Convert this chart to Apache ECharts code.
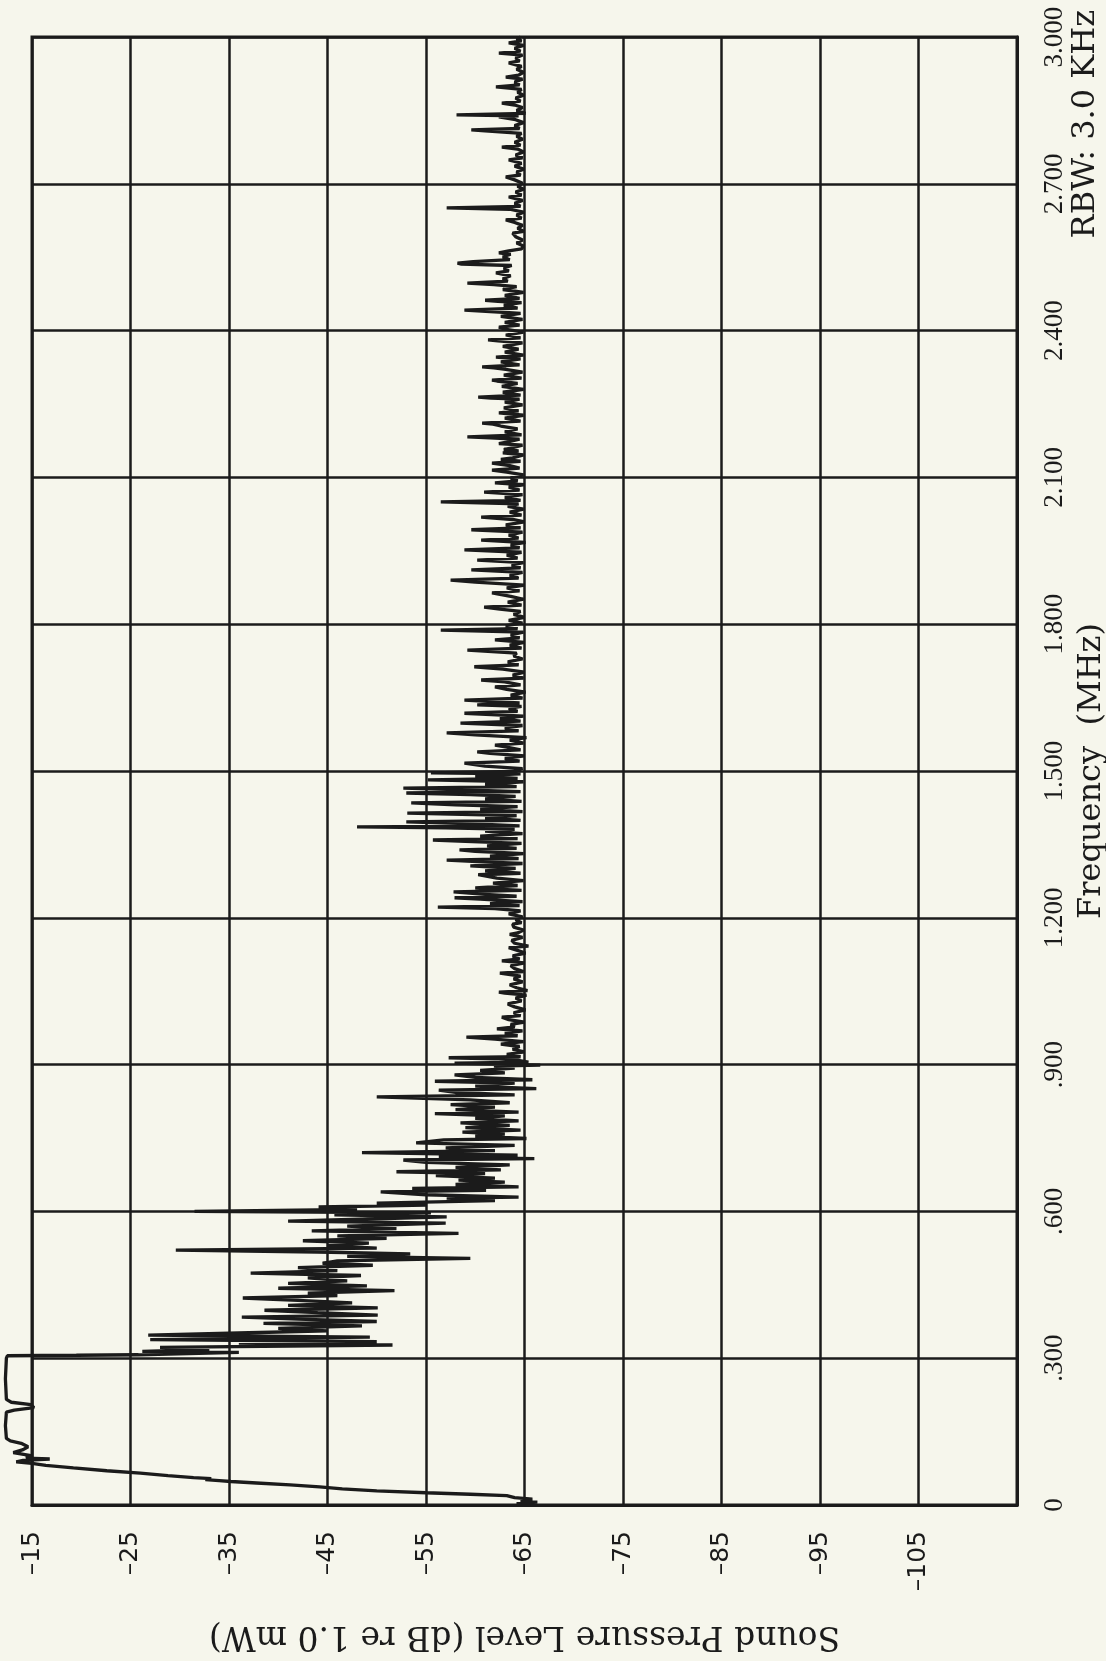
<!DOCTYPE html>
<html><head><meta charset="utf-8">
<script src="https://cdn.jsdelivr.net/npm/echarts@6/dist/echarts.min.js"></script>
<style>html,body{margin:0;padding:0;background:#f6f6ec;}#chart{width:1106px;height:1661px;}</style>
</head><body><div id="chart"></div>
<script>
// Frequency ticks (MHz) and level ticks (dB re 1.0 mW)
const freqTicks = [0, 0.3, 0.6, 0.9, 1.2, 1.5, 1.8, 2.1, 2.4, 2.7, 3.0];
const levelTicks = [-15, -25, -35, -45, -55, -65, -75, -85, -95, -105];
const levelTitle = 'Sound Pressure Level (dB re 1.0 mW)';
const freqTitle = 'Frequency  (MHz)';
const rbwNote = 'RBW: 3.0 KHz';

// Trace, [frequency MHz, level dB]
const rampPts = [[0.000,-65.6],[0.003,-64.2],[0.006,-66.3],[0.009,-64.6],[0.012,-65.8],[0.015,-64.0],[0.019,-63.2],[0.022,-59.5],[0.025,-55.0],[0.029,-50.0],[0.033,-46.5],[0.037,-44.2],[0.041,-41.2],[0.045,-37.8],[0.048,-35.2],[0.050,-34.0],[0.052,-32.6],[0.054,-33.2],[0.056,-31.4],[0.060,-28.8],[0.065,-26.0],[0.070,-22.6],[0.076,-19.2],[0.081,-16.4],[0.085,-15.0],[0.088,-13.4],[0.091,-14.1],[0.094,-16.8],[0.096,-14.4],[0.101,-14.9],[0.107,-13.1],[0.113,-14.1],[0.119,-14.6],[0.126,-13.9],[0.131,-12.8],[0.136,-12.4],[0.162,-12.3],[0.190,-12.4],[0.194,-13.2],[0.199,-15.2],[0.205,-14.9],[0.210,-12.9],[0.216,-12.4],[0.258,-12.3],[0.300,-12.4],[0.305,-12.5],[0.306,-19.5],[0.307,-25.8]];
const band03Pts = [[0.309,-26.0],[0.312,-36.0],[0.314,-26.2],[0.318,-33.0],[0.322,-28.0],[0.327,-51.6],[0.331,-36.0],[0.334,-50.0],[0.338,-27.0],[0.343,-49.3],[0.347,-26.8],[0.352,-37.0],[0.356,-45.0],[0.361,-40.0],[0.366,-48.5],[0.371,-38.5],[0.375,-50.0],[0.380,-42.0],[0.384,-36.3],[0.388,-50.1],[0.393,-44.0],[0.398,-38.6],[0.403,-50.1],[0.408,-41.0],[0.413,-47.5],[0.418,-42.0],[0.423,-36.4],[0.428,-46.0],[0.433,-43.0],[0.438,-51.8],[0.443,-40.0],[0.448,-49.0],[0.453,-41.0],[0.458,-47.0],[0.464,-43.0],[0.469,-48.4],[0.474,-37.2],[0.479,-46.0],[0.485,-42.0],[0.490,-49.6],[0.494,-44.5],[0.499,-46.0],[0.504,-59.5],[0.508,-47.0],[0.513,-53.4],[0.517,-44.0],[0.521,-29.6],[0.525,-50.0],[0.530,-45.0],[0.535,-49.2],[0.540,-42.5],[0.545,-51.0],[0.550,-46.0],[0.555,-58.3],[0.560,-43.4],[0.565,-52.0],[0.570,-47.0],[0.576,-57.0],[0.580,-41.0],[0.585,-50.0],[0.589,-57.1],[0.593,-45.7],[0.597,-55.5],[0.600,-31.5],[0.604,-48.0],[0.609,-44.1],[0.613,-55.0]];
const band06Pts = [[0.617,-50.0],[0.622,-62.0],[0.627,-57.1],[0.629,-64.4],[0.634,-55.0],[0.640,-50.4],[0.643,-61.1],[0.647,-53.6],[0.650,-64.4],[0.655,-58.0],[0.660,-63.0],[0.664,-58.3],[0.668,-62.0],[0.673,-56.0],[0.677,-61.0],[0.681,-52.0],[0.685,-62.6],[0.690,-58.0],[0.695,-63.5],[0.700,-55.0],[0.705,-52.7],[0.708,-66.0],[0.711,-56.3],[0.715,-64.3],[0.720,-48.5],[0.724,-62.0],[0.730,-57.0],[0.735,-64.0],[0.740,-54.0],[0.746,-56.8],[0.749,-65.2],[0.754,-60.0],[0.758,-63.0],[0.762,-58.7],[0.766,-64.6],[0.771,-59.0],[0.776,-63.5],[0.781,-58.5],[0.785,-64.4],[0.790,-60.0],[0.795,-63.0],[0.800,-55.9],[0.803,-64.4],[0.808,-58.0],[0.813,-62.0],[0.818,-57.5],[0.822,-63.5],[0.828,-59.5],[0.834,-50.0],[0.838,-64.0],[0.843,-58.0],[0.848,-56.3],[0.851,-66.2],[0.856,-60.0],[0.862,-64.0],[0.866,-55.9],[0.869,-65.8],[0.874,-60.0],[0.879,-57.9],[0.883,-63.0],[0.888,-60.5],[0.893,-64.0],[0.897,-61.9],[0.899,-66.6],[0.903,-57.9],[0.905,-65.4]];
const band09Pts = [[0.909,-64.2],[0.912,-62.0],[0.914,-57.3],[0.916,-64.6],[0.921,-63.2],[0.926,-65.0],[0.931,-63.8],[0.937,-64.5],[0.942,-62.6],[0.947,-64.9],[0.952,-62.0],[0.956,-59.1],[0.959,-64.3],[0.964,-63.0],[0.969,-64.8],[0.973,-62.2],[0.977,-64.0],[0.982,-63.6],[0.987,-65.0],[0.992,-63.4],[0.997,-62.7],[1.000,-64.6],[1.006,-63.9],[1.012,-65.1],[1.018,-64.0],[1.024,-63.3],[1.030,-64.7],[1.036,-64.1],[1.042,-65.2],[1.046,-63.0],[1.048,-62.4],[1.051,-65.3],[1.057,-64.2],[1.063,-63.5],[1.069,-64.8],[1.075,-63.9],[1.081,-64.6],[1.085,-63.2],[1.087,-62.5],[1.090,-64.9],[1.096,-64.0],[1.102,-63.6],[1.108,-65.0],[1.112,-62.7],[1.116,-64.5],[1.122,-63.8],[1.128,-65.1],[1.134,-64.2],[1.139,-63.4],[1.142,-65.4],[1.148,-64.0],[1.154,-63.7],[1.160,-64.8],[1.166,-63.5],[1.169,-64.3],[1.175,-64.9],[1.181,-63.9],[1.187,-63.8],[1.190,-64.7],[1.196,-64.1],[1.202,-64.8],[1.208,-63.4],[1.214,-64.6],[1.219,-62.0],[1.222,-56.2],[1.225,-64.5],[1.229,-61.5],[1.233,-64.8],[1.238,-60.5],[1.241,-57.9],[1.244,-64.2],[1.248,-61.0],[1.253,-57.8],[1.256,-64.7],[1.261,-60.0],[1.266,-64.3],[1.271,-61.8],[1.276,-64.9],[1.281,-62.2],[1.288,-60.3],[1.291,-64.6],[1.296,-61.0],[1.301,-64.1],[1.306,-59.5],[1.311,-64.8],[1.315,-60.2],[1.318,-57.1],[1.321,-64.4],[1.326,-61.5],[1.331,-64.9],[1.336,-60.0],[1.339,-58.4],[1.342,-64.2],[1.347,-61.2],[1.352,-64.7],[1.356,-59.0],[1.359,-55.7],[1.362,-64.3],[1.367,-60.5],[1.372,-64.8],[1.377,-61.0],[1.381,-64.0],[1.384,-57.0],[1.386,-48.0],[1.388,-64.5],[1.392,-60.0],[1.396,-53.0],[1.399,-64.6],[1.404,-61.0],[1.409,-64.2],[1.414,-53.1],[1.417,-64.8],[1.422,-60.5],[1.427,-64.3],[1.431,-58.0],[1.435,-53.5],[1.438,-64.7],[1.443,-61.0],[1.448,-64.1],[1.452,-59.5],[1.455,-53.0],[1.458,-64.6],[1.462,-58.0],[1.465,-52.7],[1.468,-64.2],[1.473,-61.0],[1.478,-64.9],[1.482,-55.2],[1.485,-64.3],[1.490,-60.0],[1.494,-64.6],[1.496,-55.5],[1.499,-64.0]];
const band15Pts = [[1.505,-64.8],[1.510,-61.0],[1.516,-58.9],[1.520,-64.5],[1.526,-63.0],[1.531,-65.0],[1.536,-61.5],[1.539,-60.2],[1.543,-64.6],[1.549,-63.2],[1.553,-62.0],[1.557,-64.9],[1.563,-63.5],[1.568,-65.2],[1.574,-60.0],[1.578,-57.1],[1.582,-64.4],[1.588,-63.0],[1.593,-64.8],[1.598,-58.5],[1.602,-64.6],[1.607,-62.5],[1.612,-64.9],[1.618,-58.9],[1.622,-64.3],[1.628,-63.4],[1.632,-64.7],[1.635,-60.2],[1.639,-64.5],[1.645,-58.9],[1.649,-64.8],[1.655,-63.6],[1.661,-65.1],[1.667,-63.2],[1.672,-62.0],[1.676,-64.6],[1.682,-63.0],[1.686,-60.6],[1.690,-64.9],[1.696,-63.8],[1.702,-65.0],[1.708,-62.8],[1.713,-59.9],[1.717,-64.4],[1.723,-63.3],[1.729,-64.8],[1.735,-63.9],[1.741,-64.2],[1.747,-59.2],[1.751,-64.7],[1.757,-63.5],[1.763,-65.0],[1.768,-62.0],[1.772,-64.5],[1.778,-63.6],[1.784,-64.9],[1.788,-56.5],[1.791,-64.3],[1.797,-63.1],[1.802,-64.8],[1.808,-63.4],[1.814,-65.0],[1.820,-63.9],[1.826,-64.6],[1.831,-62.5],[1.835,-60.9],[1.839,-64.7],[1.845,-63.3],[1.851,-64.9],[1.857,-63.6],[1.864,-61.7],[1.868,-64.5],[1.874,-63.2],[1.880,-65.0],[1.886,-60.0],[1.890,-57.5],[1.894,-64.4],[1.900,-63.5],[1.906,-64.8],[1.911,-59.6],[1.915,-64.6],[1.921,-63.7],[1.926,-64.9],[1.931,-60.2],[1.935,-64.3],[1.941,-63.2],[1.947,-64.7],[1.952,-58.9],[1.956,-64.5],[1.962,-63.6],[1.967,-65.1],[1.972,-60.6],[1.976,-64.4],[1.982,-63.4],[1.988,-64.8],[1.993,-59.6],[1.997,-64.6],[2.003,-63.1],[2.009,-65.0],[2.014,-63.8],[2.019,-60.6],[2.023,-64.7],[2.029,-63.5],[2.035,-64.9],[2.041,-63.3],[2.046,-64.4],[2.050,-56.5],[2.053,-64.6],[2.059,-63.0],[2.065,-64.8],[2.070,-60.9],[2.074,-64.5],[2.080,-63.4],[2.085,-65.0],[2.089,-62.0],[2.093,-64.3],[2.099,-63.6],[2.105,-64.9],[2.111,-63.2],[2.115,-61.7],[2.119,-64.5]];
const band21Pts = [[2.124,-63.5],[2.129,-61.7],[2.133,-64.6],[2.137,-62.6],[2.140,-63.8],[2.146,-64.9],[2.150,-62.8],[2.154,-64.4],[2.157,-62.9],[2.160,-63.6],[2.166,-64.8],[2.169,-62.4],[2.172,-63.2],[2.178,-64.5],[2.181,-61.5],[2.183,-59.2],[2.187,-64.7],[2.193,-63.0],[2.199,-64.3],[2.205,-62.6],[2.209,-61.8],[2.211,-60.7],[2.215,-64.6],[2.221,-63.0],[2.227,-64.9],[2.232,-62.4],[2.236,-64.4],[2.242,-62.9],[2.248,-64.8],[2.254,-63.0],[2.260,-64.5],[2.262,-61.6],[2.264,-60.3],[2.268,-64.6],[2.274,-62.8],[2.280,-64.9],[2.286,-62.7],[2.292,-64.3],[2.297,-62.2],[2.299,-61.7],[2.303,-64.7],[2.309,-62.9],[2.315,-64.8],[2.321,-63.1],[2.324,-61.9],[2.326,-60.7],[2.330,-64.5],[2.336,-62.6],[2.342,-64.6],[2.346,-62.1],[2.350,-64.9],[2.356,-63.0],[2.362,-64.4],[2.368,-62.8],[2.375,-64.8],[2.379,-62.3],[2.381,-61.3],[2.385,-64.6],[2.391,-63.1],[2.397,-64.9],[2.403,-63.0],[2.407,-62.4],[2.411,-64.5],[2.417,-63.0],[2.423,-64.8],[2.429,-62.6],[2.435,-64.6],[2.439,-61.5],[2.442,-58.9],[2.446,-64.3],[2.452,-62.9],[2.457,-64.7],[2.460,-62.3],[2.462,-61.0],[2.466,-64.5],[2.472,-63.0],[2.478,-64.9],[2.484,-62.8],[2.490,-64.2],[2.494,-61.9],[2.497,-59.2],[2.501,-63.3],[2.506,-62.8],[2.512,-63.6],[2.518,-62.1],[2.522,-63.4],[2.528,-62.9],[2.533,-63.7],[2.536,-58.6],[2.538,-58.2],[2.541,-59.8],[2.545,-63.5],[2.551,-62.8],[2.556,-63.6],[2.559,-62.4],[2.563,-63.4],[2.567,-64.7],[2.573,-64.9],[2.579,-64.2],[2.585,-64.8],[2.592,-64.1],[2.599,-63.8],[2.603,-64.9],[2.609,-64.3],[2.615,-64.8],[2.621,-64.0],[2.626,-63.1],[2.630,-64.7],[2.636,-64.2],[2.642,-64.9],[2.648,-63.5],[2.651,-57.1],[2.654,-64.6],[2.660,-64.0],[2.666,-64.8],[2.673,-63.4],[2.677,-64.7],[2.683,-64.1],[2.689,-64.9],[2.695,-64.3],[2.701,-64.8],[2.708,-64.0],[2.714,-63.1],[2.718,-64.6],[2.724,-64.2],[2.730,-64.9],[2.736,-64.0],[2.742,-64.7],[2.749,-63.4],[2.753,-64.8],[2.759,-64.1],[2.765,-64.9],[2.771,-64.3],[2.775,-62.7],[2.779,-64.6],[2.785,-64.0],[2.791,-64.8],[2.797,-64.2],[2.803,-64.7],[2.808,-61.0],[2.810,-59.6],[2.813,-64.5],[2.819,-64.0],[2.825,-64.9],[2.831,-64.1],[2.837,-62.4],[2.839,-64.4],[2.841,-58.1],[2.844,-65.1],[2.850,-64.2],[2.856,-64.8],[2.861,-64.0],[2.865,-62.7],[2.869,-64.6],[2.875,-64.1],[2.881,-64.9],[2.887,-64.3],[2.893,-64.7],[2.898,-62.1],[2.902,-64.5],[2.908,-64.0],[2.914,-64.8],[2.918,-63.1],[2.922,-64.4],[2.928,-64.9],[2.934,-64.2],[2.940,-64.7],[2.947,-63.4],[2.951,-64.5],[2.957,-64.1],[2.963,-64.8],[2.967,-62.4],[2.971,-64.6],[2.977,-64.0],[2.983,-64.9],[2.988,-63.4],[2.992,-64.7],[2.997,-64.2],[3.000,-64.6]];

const INK = '#1b1b1b';
const BG = '#f6f6ec';
const W = 1106, GL = 32, GR = 89, GT = 37, GB = 156;
const dbMin = -115, dbMax = -15;
// the trace runs slightly outside the left frame; its hidden axis spans the
// same scale but extends to the canvas edge so nothing is clipped
const pxPerDb = (W - GL - GR) / (dbMax - dbMin);
const traceDbMax = dbMax + GL / pxPerDb;

const trace = [].concat(rampPts, band03Pts, band06Pts, band09Pts, band15Pts, band21Pts)
  .map(p => [p[1], p[0]]);

const chart = echarts.init(document.getElementById('chart'), null, {renderer: 'canvas'});
chart.setOption({
  backgroundColor: BG,
  animation: false,
  grid: [
    {left: GL, right: GR, top: GT, bottom: GB, containLabel: false, outerBoundsMode: 'none',
     show: true, borderColor: INK, borderWidth: 3, backgroundColor: 'transparent'},
    {left: 0, right: GR, top: GT, bottom: GB, containLabel: false, outerBoundsMode: 'none', show: false}
  ],
  xAxis: [{
    gridIndex: 0, type: 'value', min: dbMin, max: dbMax, interval: 10, inverse: true, position: 'bottom',
    axisLine: {show: true, lineStyle: {color: INK, width: 3}},
    axisTick: {show: false},
    splitLine: {show: true, lineStyle: {color: INK, width: 2.5}},
    axisLabel: {
      rotate: 90, margin: 26, fontFamily: 'DejaVu Sans', fontSize: 25, color: INK,
      formatter: v => levelTicks.indexOf(Math.round(v)) >= 0 ? '\u2013' + Math.abs(Math.round(v)) : ''
    },
    name: levelTitle, nameLocation: 'middle', nameRotate: 180, nameGap: 114,
    nameTextStyle: {fontFamily: 'DejaVu Serif', fontSize: 33, color: INK}
  }, {
    gridIndex: 1, type: 'value', min: dbMin, max: traceDbMax, inverse: true, show: false
  }],
  yAxis: [{
    gridIndex: 0, type: 'value', min: freqTicks[0], max: freqTicks[freqTicks.length - 1], interval: 0.3, position: 'right',
    axisLine: {show: true, lineStyle: {color: INK, width: 3}},
    axisTick: {show: false},
    splitLine: {show: true, lineStyle: {color: INK, width: 2.5}},
    axisLabel: {
      rotate: 90, margin: 24, fontFamily: 'Liberation Serif', fontSize: 27, color: INK,
      formatter: v => v === 0 ? '0' : (v < 1 ? v.toFixed(3).slice(1) : v.toFixed(3))
    },
    name: freqTitle, nameLocation: 'middle', nameRotate: 90, nameGap: 44,
    nameTextStyle: {fontFamily: 'DejaVu Serif', fontSize: 32, color: INK}
  }, {
    gridIndex: 1, type: 'value', min: freqTicks[0], max: freqTicks[freqTicks.length - 1], show: false
  }],
  graphic: [{
    type: 'text', x: 1086, y: 10, rotation: Math.PI / 2,
    style: {text: rbwNote, font: '32px "DejaVu Serif"', fill: INK, align: 'right', verticalAlign: 'middle'}
  }],
  series: [{
    type: 'line', xAxisIndex: 1, yAxisIndex: 1, data: trace, showSymbol: false, symbol: 'none',
    silent: true, z: 3, lineStyle: {color: INK, width: 3.3}
  }]
});
</script></body></html>
